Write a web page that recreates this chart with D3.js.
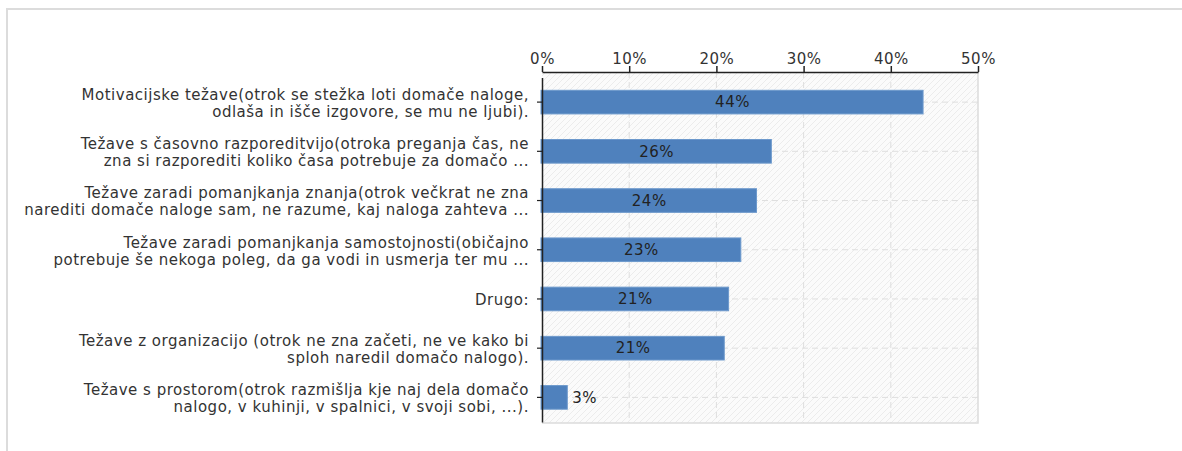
<!DOCTYPE html>
<html>
<head>
<meta charset="utf-8">
<script src="https://cdn.jsdelivr.net/npm/d3@7"></script>
<style>
  body { margin: 0; background: #fff; }
  svg { display: block; font-family: "DejaVu Sans", Verdana, sans-serif; }
</style>
</head>
<body>
<div id="chart"></div>
<script>
// categories, each label already split in its two lines (as in the source)
var categories = [
    ["Motivacijske težave(otrok se stežka loti domače naloge,", "odlaša in išče izgovore, se mu ne ljubi)."],
    ["Težave s časovno razporeditvijo(otroka preganja čas, ne", "zna si razporediti koliko časa potrebuje za domačo ..."],
    ["Težave zaradi pomanjkanja znanja(otrok večkrat ne zna", "narediti domače naloge sam, ne razume, kaj naloga zahteva ..."],
    ["Težave zaradi pomanjkanja samostojnosti(običajno", "potrebuje še nekoga poleg, da ga vodi in usmerja ter mu ..."],
    ["Drugo:"],
    ["Težave z organizacijo (otrok ne zna začeti, ne ve kako bi", "sploh naredil domačo nalogo)."],
    ["Težave s prostorom(otrok razmišlja kje naj dela domačo", "nalogo, v kuhinji, v spalnici, v svoji sobi, ...)."]
];
var values = [43.7, 26.3, 24.6, 22.8, 21.4, 20.9, 2.9];
var valueLabels = ["44%", "26%", "24%", "23%", "21%", "21%", "3%"];
var xTicks = [0, 10, 20, 30, 40, 50];

(function () {
    "use strict";

    var width = 1182,
        height = 451,
        left = 542,
        right = 978,
        top = 72,
        bottom = 423,
        fontSize = 15,
        spacing = 0.5;

    var svg = d3.select("#chart").append("svg")
        .attr("width", width)
        .attr("height", height);

    //Outer frame (only top and left edge are in view)
    svg.append("path")
        .attr("d", "M7,451 V9 H1182")
        .attr("fill", "none")
        .attr("stroke", "#dcdcdc")
        .attr("stroke-width", 2);

    var xScale = d3.scaleLinear().domain([0, 50]).range([left, right]);
    var yScale = d3.scaleBand()
        .domain(d3.range(categories.length))
        .range([77.5, 422])
        .paddingInner(0.52)
        .paddingOuter(0.26);

    //Hatched background
    var pattern = svg.append("defs").append("pattern")
        .attr("id", "hatch")
        .attr("patternUnits", "userSpaceOnUse")
        .attr("width", 6)
        .attr("height", 6);
    pattern.append("rect").attr("width", 6).attr("height", 6).attr("fill", "#fbfbfb");
    pattern.append("path")
        .attr("d", "M-1,7 L7,-1 M-1,1 L1,-1 M5,7 L7,5")
        .attr("stroke", "#ececec")
        .attr("stroke-width", 1);

    svg.append("rect")
        .attr("x", left).attr("y", top)
        .attr("width", right - left).attr("height", bottom - top)
        .attr("fill", "url(#hatch)");

    //Grid
    var grid = svg.append("g").attr("class", "grid");
    grid.selectAll("line.v")
        .data(xTicks.slice(1, -1))
        .enter().append("line")
        .attr("class", "v")
        .attr("x1", function (d) { return xScale(d); })
        .attr("x2", function (d) { return xScale(d); })
        .attr("y1", top)
        .attr("y2", bottom)
        .attr("stroke", "#dedede")
        .attr("stroke-dasharray", "6,4");
    grid.selectAll("line.h")
        .data(d3.range(categories.length))
        .enter().append("line")
        .attr("class", "h")
        .attr("x1", left)
        .attr("x2", right)
        .attr("y1", function (d) { return yScale(d) + yScale.bandwidth() / 2; })
        .attr("y2", function (d) { return yScale(d) + yScale.bandwidth() / 2; })
        .attr("stroke", "#dedede")
        .attr("stroke-dasharray", "6,4");

    //Right and bottom border of plot
    svg.append("path")
        .attr("d", "M" + left + "," + bottom + " H" + right + " V" + top)
        .attr("fill", "none")
        .attr("stroke", "#dcdcdc")
        .attr("stroke-width", 1.5);

    //Bars
    var bars = svg.append("g").attr("class", "bars");
    bars.selectAll("rect")
        .data(values)
        .enter().append("rect")
        .attr("x", xScale(0) - 1)
        .attr("y", function (d, i) { return yScale(i); })
        .attr("width", function (d) { return xScale(d) - xScale(0) + 1; })
        .attr("height", yScale.bandwidth())
        .attr("fill", "#4f81bd")
        .attr("stroke", "#6d99cc")
        .attr("stroke-width", 1);

    //Value labels, inside bar when there is room
    bars.selectAll("text")
        .data(values)
        .enter().append("text")
        .attr("x", function (d) {
            var w = xScale(d) - xScale(0);
            return w > 40 ? xScale(0) + w / 2 : xScale(d) + 5;
        })
        .attr("y", function (d, i) { return yScale(i) + yScale.bandwidth() / 2; })
        .attr("dy", "0.35em")
        .attr("text-anchor", function (d) { return xScale(d) - xScale(0) > 40 ? "middle" : "start"; })
        .attr("font-size", fontSize)
        .attr("letter-spacing", spacing)
        .attr("fill", "#222")
        .text(function (d, i) { return valueLabels[i]; });

    //Top axis
    var xAxis = svg.append("g")
        .attr("transform", "translate(0," + top + ")")
        .call(d3.axisTop(xScale)
            .tickValues(xTicks)
            .tickSize(6)
            .tickSizeOuter(0)
            .tickFormat(function (d) { return d + "%"; }));
    xAxis.select(".domain").attr("stroke", "#222").attr("stroke-width", 1.5);
    xAxis.selectAll(".tick line").attr("stroke", "#222").attr("stroke-width", 1.5);
    xAxis.selectAll(".tick text")
        .attr("font-family", "DejaVu Sans, Verdana, sans-serif")
        .attr("font-size", fontSize)
        .attr("letter-spacing", spacing)
        .attr("fill", "#333")
        .attr("dy", "0.05em");

    //Left axis
    var yAxis = svg.append("g")
        .attr("transform", "translate(" + left + ",0)")
        .call(d3.axisLeft(yScale).tickSize(5).tickSizeOuter(0).tickFormat(""));
    yAxis.select(".domain").attr("stroke", "#222").attr("stroke-width", 1.5);
    yAxis.selectAll(".tick line").attr("stroke", "#222").attr("stroke-width", 1.2);

    //Category labels, two lines, right aligned
    var lineH = 17;
    var labels = svg.append("g").attr("class", "catLabels");
    labels.selectAll("text")
        .data(categories)
        .enter().append("text")
        .attr("text-anchor", "end")
        .attr("font-size", fontSize)
        .attr("letter-spacing", spacing)
        .attr("fill", "#333")
        .each(function (lines, i) {
            var cy = yScale(i) + yScale.bandwidth() / 2 + 1;
            var t = d3.select(this);
            lines.forEach(function (ln, j) {
                t.append("tspan")
                    .attr("x", left - 13)
                    .attr("y", cy + (j - (lines.length - 1) / 2) * lineH)
                    .attr("dy", "0.35em")
                    .text(ln);
            });
        });
})();
</script>
</body>
</html>
